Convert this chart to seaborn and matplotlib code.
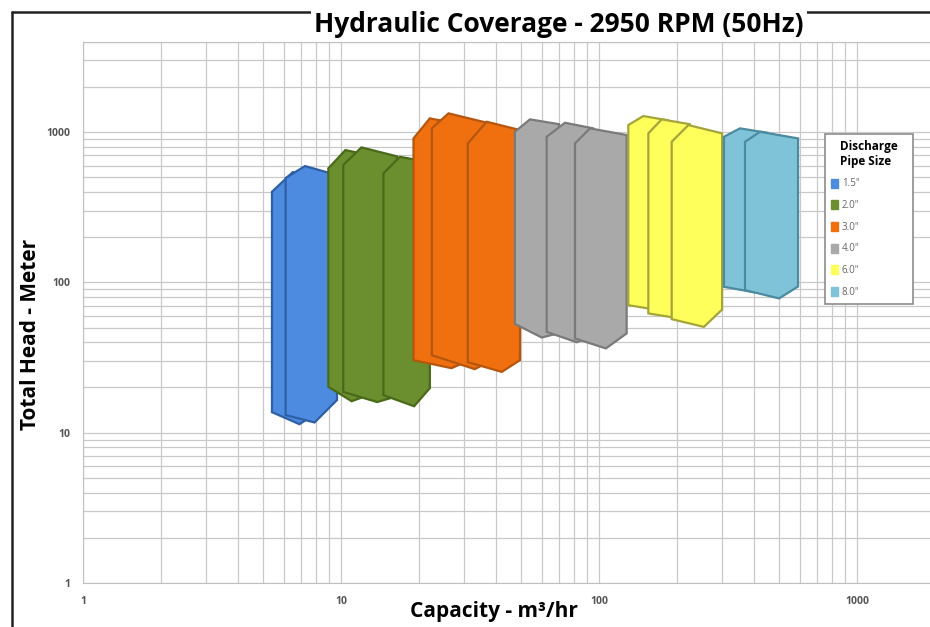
import matplotlib
matplotlib.use('Agg')
import matplotlib.pyplot as plt
from matplotlib.patches import Patch
from matplotlib.lines import Line2D
from matplotlib.ticker import LogLocator, NullFormatter, FixedLocator, FixedFormatter
import seaborn as sns

sns.set_style('whitegrid')
plt.rcParams['font.family'] = ['Open Sans', 'DejaVu Sans']
plt.rcParams['text.color'] = 'black'
plt.rcParams['axes.labelcolor'] = 'black'

# -----------------------------------------------------------------------------
# Coverage envelopes (capacity m3/hr, head m), one outline per pump model.
# Vertex order: top-left, peak, top-right, bottom-right, low point, bottom-left
# -----------------------------------------------------------------------------
sizes = ['1.5"', '2.0"', '3.0"', '4.0"', '6.0"', '8.0"']
fills = ['#4d8be0', '#6b8f2e', '#f07010', '#a9a9a9', '#ffff5c', '#7fc3d8']
edges = ['#2f5fa5', '#4a6a1b', '#b5560f', '#7a7a7a', '#a5a43a', '#4c8aa0']

cap_15 = [[5.4, 6.5, 8.4, 8.4, 6.9, 5.4],
          [6.1, 7.25, 9.65, 9.65, 7.9, 6.1]]
head_15 = [[401, 542, 480, 14.1, 11.4, 13.7],
           [495, 595, 518, 16.5, 11.7, 13.1]]

cap_20 = [[8.93, 10.4, 13.0, 13.0, 11.0, 8.93],
          [10.2, 12.0, 16.5, 16.5, 13.8, 10.2],
          [14.6, 16.9, 22.1, 22.1, 19.2, 14.6]]
head_20 = [[574, 760, 700, 18.0, 16.2, 20.2],
           [604, 792, 690, 17.5, 16.0, 18.7],
           [532, 686, 630, 19.8, 15.0, 17.8]]

cap_30 = [[19.1, 22.1, 31.0, 31.0, 26.8, 19.1],
          [22.5, 26.1, 38.0, 38.0, 33.0, 22.5],
          [31.0, 36.7, 49.4, 49.4, 42.0, 31.0]]
head_30 = [[909, 1236, 1100, 30.0, 26.9, 30.4],
           [1060, 1334, 1140, 30.0, 26.5, 32.8],
           [842, 1173, 1033, 30.4, 25.4, 29.5]]

cap_40 = [[47.2, 54.0, 70, 70, 60, 47.2],
          [62.7, 73.8, 95, 95, 82, 62.7],
          [80.7, 92.3, 128, 128, 106.4, 80.7]]
head_40 = [[1006, 1217, 1130, 46, 43, 53],
           [932, 1155, 1060, 44, 40, 46.9],
           [842, 1060, 957, 45.8, 36.4, 42.4]]

cap_60 = [[129.9, 148.5, 185, 185, 165, 129.9],
          [155.3, 175, 225, 225, 200, 155.3],
          [191.3, 222, 300, 300, 255, 191.3]]
head_60 = [[1115, 1280, 1200, 72, 66, 70.6],
           [982, 1217, 1130, 62, 58, 62.2],
           [863, 1115, 982, 66, 50.6, 57]]

cap_80 = [[305, 352, 450, 450, 400, 305],
          [368, 421, 591, 591, 499, 368]]
head_80 = [[932, 1060, 990, 92, 86, 93.5],
           [863, 1006, 909, 94, 78.3, 88.9]]

caps = [cap_15, cap_20, cap_30, cap_40, cap_60, cap_80]
heads = [head_15, head_20, head_30, head_40, head_60, head_80]

# -----------------------------------------------------------------------------
# Plot
# -----------------------------------------------------------------------------
W, H = 930, 627
fig = plt.figure(figsize=(W / 100, H / 100), dpi=100)
ax = fig.add_axes([83 / W, 1 - 583 / H, (W - 83) / W, (583 - 41.7) / H])

for cap, head, fc, ec in zip(caps, heads, fills, edges):
    for q, h in zip(cap, head):
        ax.fill(q, h, facecolor=fc, edgecolor=ec, linewidth=1.6, joinstyle='miter')

ax.set_xscale('log')
ax.set_yscale('log')
ax.set_xlim(1, 10 ** ((W - 83) / 258))
ax.set_ylim(1, 4000)

major = [1, 10, 100, 1000]
for axis in (ax.xaxis, ax.yaxis):
    axis.set_major_locator(FixedLocator(major))
    axis.set_major_formatter(FixedFormatter([str(m) for m in major]))
    axis.set_minor_locator(LogLocator(base=10, subs=range(2, 10)))
    axis.set_minor_formatter(NullFormatter())

ax.set_axisbelow(True)
ax.grid(which='both', color='#c9c9c9', linewidth=0.9)
ax.tick_params(which='major', length=4, color='#bdbdbd', labelsize=7.5,
               labelcolor='#555555', pad=5)
ax.tick_params(which='minor', length=0)
for lab in ax.get_xticklabels() + ax.get_yticklabels():
    lab.set_fontweight('bold')

for side in ['left', 'bottom', 'top']:
    ax.spines[side].set_color('#c0c0c0')
ax.spines['right'].set_visible(False)

ax.set_xlabel('Capacity - m³/hr', fontsize=15, fontweight='bold')
ax.set_ylabel('Total Head - Meter', fontsize=15, fontweight='bold')
ax.xaxis.set_label_coords((494 - 83) / (W - 83), -0.033)
ax.yaxis.set_label_coords(-0.050, (583 - 335) / 541)

handles = [Patch(facecolor=f, edgecolor=f, label=s) for f, s in zip(fills, sizes)]
leg = ax.legend(handles=handles, title='Discharge\nPipe Size', loc='upper left',
                bbox_to_anchor=(820 / W, 1 - 301 / H, 98 / W, 172 / H),
                bbox_transform=fig.transFigure, mode='expand',
                fontsize=7, title_fontproperties={'weight': 'bold', 'size': 8.5},
                frameon=True, fancybox=False, framealpha=1, edgecolor='#8c8c8c',
                handlelength=0.75, handleheight=1.05, handletextpad=0.4,
                labelspacing=1.1, borderpad=0.6)
leg.get_frame().set_linewidth(1.2)
for t in leg.get_texts():
    t.set_color('#666666')

# outer frame and title
fig.add_artist(Line2D([12 / W, 12 / W], [0, 1 - 12 / H], transform=fig.transFigure,
                      color='#222222', linewidth=1.8))
fig.add_artist(Line2D([12 / W, 1], [1 - 12 / H, 1 - 12 / H], transform=fig.transFigure,
                      color='#222222', linewidth=1.8))
fig.text(559 / W, 1 - 24 / H, 'Hydraulic Coverage - 2950 RPM (50Hz)', ha='center',
         va='center', fontsize=19, fontweight='bold', zorder=5,
         bbox=dict(facecolor='white', edgecolor='none', pad=2))

fig.savefig('out.png', dpi=100)
